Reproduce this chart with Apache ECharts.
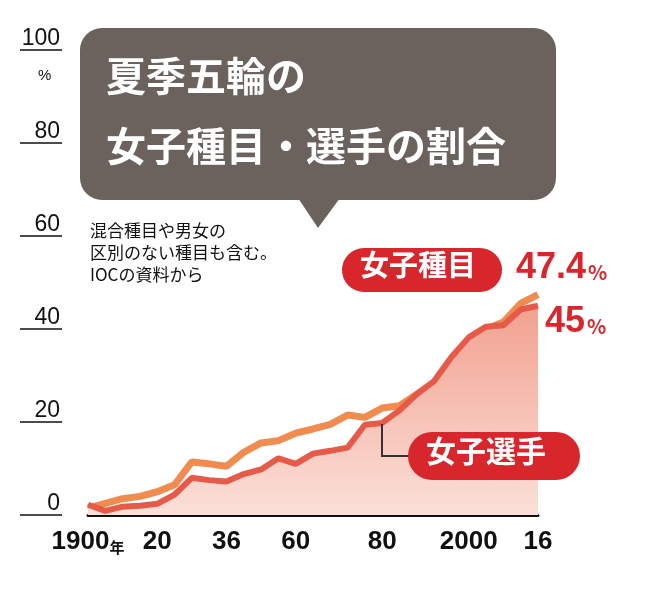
<!DOCTYPE html>
<html><head><meta charset="utf-8">
<script src="https://cdn.jsdelivr.net/npm/echarts@6/dist/echarts.min.js"></script>
<style>html,body{margin:0;background:#fff}#main{width:652px;height:590px}</style>
</head><body><div id="main"></div>
<script>
var years = ['1900','1904','1908','1912','1920','1924','1928','1932','1936','1948','1952','1956','1960','1964','1968','1972','1976','1980','1984','1988','1992','1996','2000','2004','2008','2012','2016'];
var yearLabels = {'1900': '1900{s|年}', '1920': '20', '1936': '36', '1960': '60', '1980': '80', '2000': '2000', '2016': '16'};
// 女子種目 (events) and 女子選手 (athletes), percent
var eventShare = [1.5, 2.5, 3.5, 4, 5, 6.5, 11.4, 11, 10.5, 13.5, 15.5, 16, 17.6, 18.5, 19.5, 21.5, 21, 23, 23.5, 26, 28.5, 32, 37.6, 40, 41.5, 45.5, 47.4];
var athleteShare = [2.2, 0.9, 1.8, 2.0, 2.4, 4.4, 8.0, 7.5, 7.2, 8.8, 9.8, 12.2, 11.0, 13.2, 13.8, 14.5, 19.4, 19.8, 22.5, 26.0, 28.8, 34.0, 38.2, 40.5, 40.8, 44.2, 45];
var yTicks = [0, 20, 40, 60, 80, 100];

var NARROW = '"Liberation Sans Narrow","Arial Narrow","Liberation Sans",sans-serif';
var JP = '"Noto Sans CJK JP",sans-serif';
var myChart = echarts.init(document.getElementById('main'));

function g(o) { o.z = 100; return o; }

myChart.setOption({
  animation: false,
  grid: { left: 88, right: 114, top: 50, bottom: 75 },
  xAxis: {
    type: 'category', data: years, boundaryGap: false,
    axisLine: { lineStyle: { color: '#111', width: 3 } },
    axisTick: { show: false },
    axisLabel: {
      interval: function (i, v) { return yearLabels[v] !== undefined; },
      formatter: function (v) { return yearLabels[v]; },
      color: '#111', fontFamily: NARROW, fontSize: 26, fontWeight: 'bold', margin: 14,
      rich: { s: { fontFamily: JP, fontSize: 15, fontWeight: 'bold', color: '#111', verticalAlign: 'bottom', padding: [6, 0, 0, 0] } }
    }
  },
  yAxis: {
    type: 'value', min: 0, max: 100, interval: 20, offset: 26,
    axisLine: { show: false },
    splitLine: { show: false },
    axisTick: { show: true, length: 42, lineStyle: { color: '#111', width: 1.5 } },
    axisLabel: {
      color: '#111', fontFamily: NARROW, fontSize: 23, verticalAlign: 'bottom', align: 'right', margin: 2,
      formatter: function (v) { return yTicks.indexOf(v) >= 0 ? String(v) : ''; }
    }
  },
  series: [
    {
      name: '女子種目', type: 'line', data: eventShare, symbol: 'none', z: 2,
      lineStyle: { color: '#f08c50', width: 7 }
    },
    {
      name: '女子選手', type: 'line', data: athleteShare, symbol: 'none', z: 3,
      lineStyle: { color: '#e55a48', width: 6 },
      areaStyle: { color: new echarts.graphic.LinearGradient(0, 0, 0, 1, [
        { offset: 0, color: '#f2a190' }, { offset: 1, color: '#fbe0d8' }]), opacity: 1 }
    }
  ],
  graphic: [
    g({ type: 'text', left: 38, top: 68, style: { text: '%', font: '15px ' + NARROW, fill: '#111' } }),
    g({ type: 'rect', shape: { x: 80, y: 28, width: 476, height: 172, r: 22 }, style: { fill: '#6b625e' } }),
    g({ type: 'polygon', shape: { points: [[298, 198], [340, 198], [318, 228]] }, style: { fill: '#6b625e' } }),
    g({ type: 'text', left: 106, top: 56, style: { text: '夏季五輪の', font: 'bold 40px ' + JP, fill: '#fff' } }),
    g({ type: 'text', left: 106, top: 126, style: { text: '女子種目・選手の割合', font: 'bold 40px ' + JP, fill: '#fff' } }),
    g({ type: 'text', left: 90, top: 220, style: { text: '混合種目や男女の\n区別のない種目も含む。\nIOCの資料から', font: '17px ' + JP, lineHeight: 22, fill: '#111' } }),
    g({ type: 'rect', shape: { x: 342, y: 248, width: 160, height: 44, r: 22 }, style: { fill: '#d8262d' } }),
    g({ type: 'text', left: 360, top: 250, style: { text: '女子種目', font: 'bold 29px ' + JP, fill: '#fff' } }),
    g({ type: 'text', left: 516, top: 250, style: { text: '{b|47.4}{p|%}', rich: { b: { font: 'bold 36px ' + NARROW, fill: '#d8262d' }, p: { font: 'bold 20px ' + JP, fill: '#d8262d', padding: [8, 0, 0, 2] } } } }),
    g({ type: 'text', left: 545, top: 304, style: { text: '{b|45}{p|%}', rich: { b: { font: 'bold 36px ' + NARROW, fill: '#d8262d' }, p: { font: 'bold 20px ' + JP, fill: '#d8262d', padding: [8, 0, 0, 2] } } } }),
    g({ type: 'polyline', shape: { points: [[382, 424], [382, 456], [412, 456]] }, style: { stroke: '#333', lineWidth: 2, fill: null } }),
    g({ type: 'rect', shape: { x: 408, y: 432, width: 172, height: 48, r: 24 }, style: { fill: '#d8262d' } }),
    g({ type: 'text', left: 426, top: 436, style: { text: '女子選手', font: 'bold 30px ' + JP, fill: '#fff' } })
  ]
});
</script>
</body></html>
